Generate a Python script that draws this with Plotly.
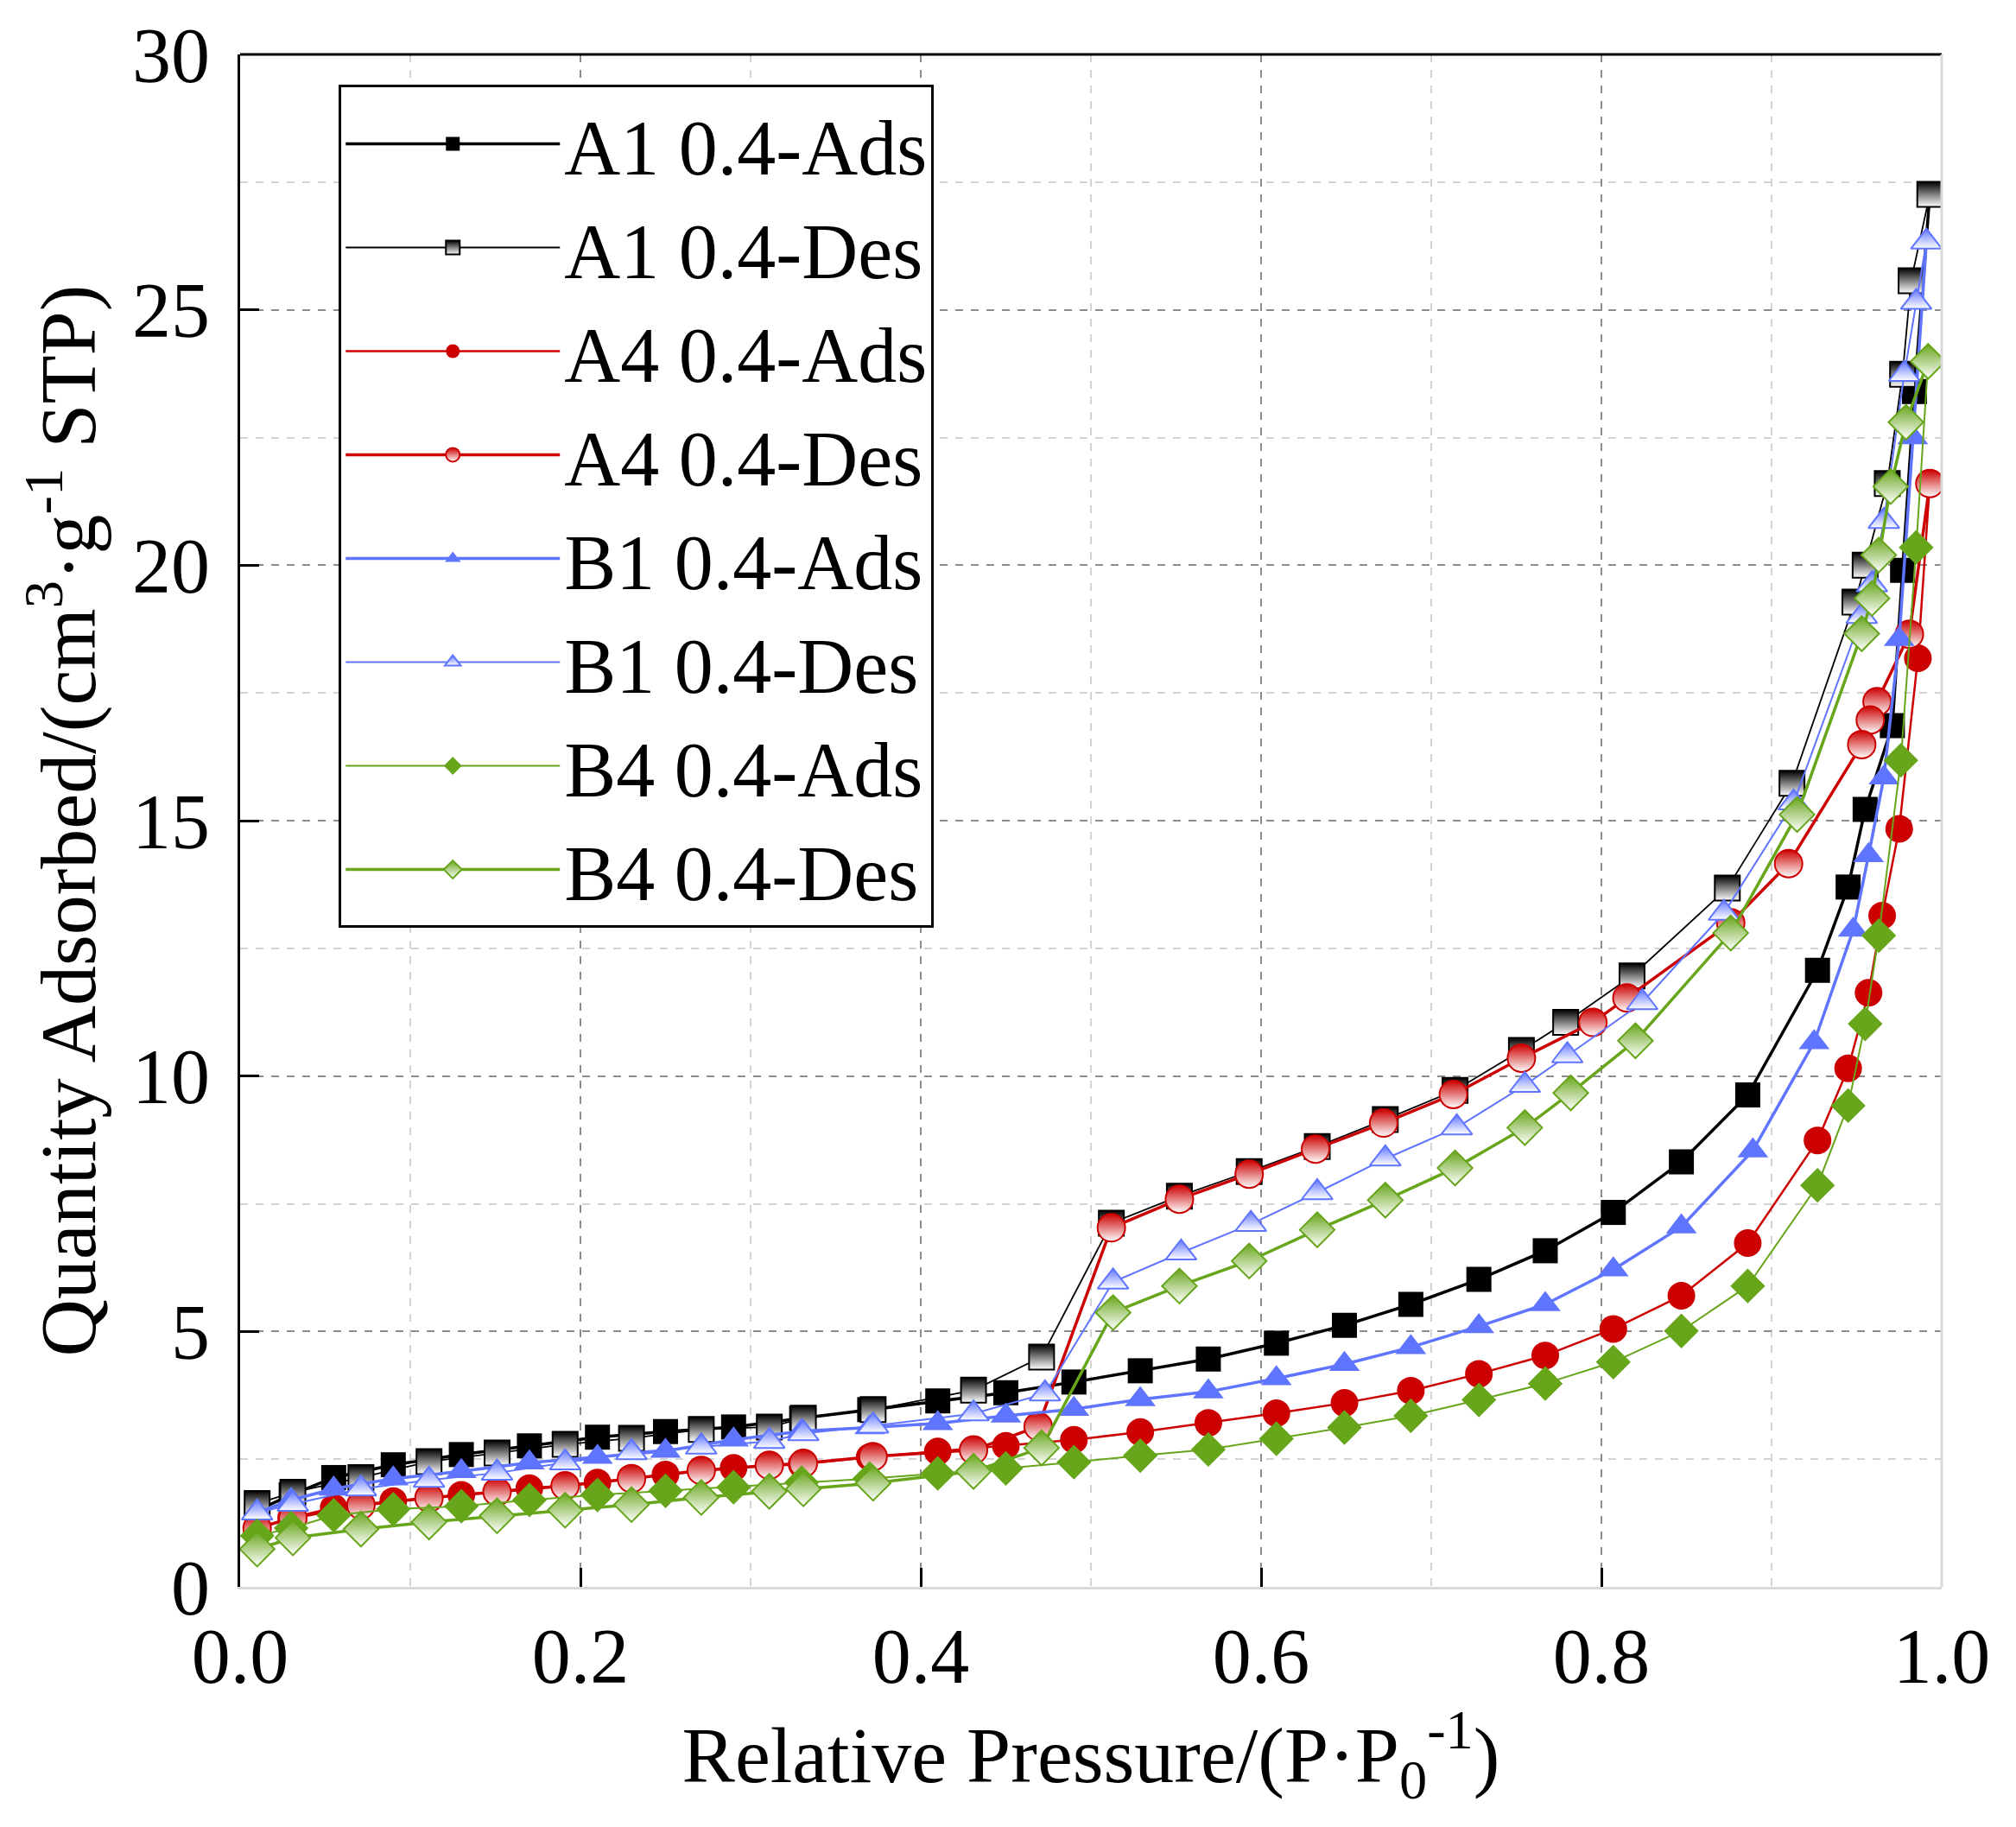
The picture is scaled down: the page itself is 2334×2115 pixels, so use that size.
import plotly.graph_objects as go

# ---------------- data ----------------
a1_ads_x = [0.010, 0.030, 0.055, 0.090, 0.130, 0.170, 0.210, 0.250, 0.290, 0.330, 0.370, 0.410, 0.450, 0.490,
            0.529, 0.569, 0.609, 0.649, 0.688, 0.728, 0.767, 0.807, 0.847, 0.886, 0.927, 0.945, 0.955, 0.971, 0.977, 0.984, 0.993]
a1_ads_y = [1.50, 1.80, 2.14, 2.39, 2.59, 2.76, 2.93, 3.04, 3.13, 3.30, 3.47, 3.64, 3.80, 4.01,
            4.23, 4.46, 4.77, 5.12, 5.53, 6.02, 6.58, 7.33, 8.32, 9.63, 12.07, 13.70, 15.22, 16.86, 19.90, 23.40, 27.26]

a1_des_x = [0.993, 0.982, 0.977, 0.968, 0.955, 0.949, 0.912, 0.874, 0.818, 0.779, 0.753, 0.714, 0.673, 0.633, 0.593,
            0.552, 0.512, 0.471, 0.431, 0.372, 0.331, 0.311, 0.271, 0.230, 0.191, 0.151, 0.111, 0.071, 0.031, 0.010]
a1_des_y = [27.26, 25.57, 23.74, 21.60, 20.00, 19.28, 15.73, 13.68, 11.96, 11.05, 10.50, 9.72, 9.15, 8.62, 8.13,
            7.65, 7.12, 4.50, 3.85, 3.47, 3.30, 3.13, 3.08, 2.91, 2.79, 2.62, 2.45, 2.14, 1.85, 1.63]

a4_ads_x = [0.010, 0.030, 0.055, 0.090, 0.130, 0.170, 0.210, 0.250, 0.290, 0.330, 0.370, 0.410, 0.450, 0.490,
            0.529, 0.569, 0.609, 0.649, 0.688, 0.728, 0.767, 0.807, 0.847, 0.886, 0.927, 0.945, 0.957, 0.965, 0.975, 0.986, 0.993]
a4_ads_y = [1.15, 1.35, 1.55, 1.68, 1.80, 1.93, 2.04, 2.20, 2.33, 2.40, 2.54, 2.65, 2.76, 2.88,
            3.03, 3.21, 3.40, 3.60, 3.84, 4.17, 4.53, 5.05, 5.70, 6.73, 8.74, 10.15, 11.63, 13.14, 14.84, 18.18, 21.60]

a4_des_x = [0.993, 0.981, 0.962, 0.958, 0.953, 0.910, 0.876, 0.815, 0.795, 0.753, 0.713, 0.672, 0.632, 0.593, 0.552,
            0.512, 0.469, 0.431, 0.372, 0.331, 0.311, 0.271, 0.230, 0.191, 0.151, 0.111, 0.071, 0.031, 0.010]
a4_des_y = [21.60, 18.65, 17.33, 16.97, 16.49, 14.16, 13.00, 11.53, 11.05, 10.35, 9.64, 9.08, 8.57, 8.08, 7.59,
            7.03, 3.14, 2.68, 2.55, 2.42, 2.38, 2.28, 2.12, 1.98, 1.86, 1.74, 1.60, 1.35, 1.15]

b1_ads_x = [0.010, 0.030, 0.055, 0.090, 0.130, 0.170, 0.210, 0.250, 0.290, 0.330, 0.370, 0.410, 0.450, 0.490,
            0.529, 0.569, 0.609, 0.649, 0.688, 0.728, 0.767, 0.807, 0.847, 0.889, 0.925, 0.948, 0.957, 0.966, 0.975, 0.983, 0.991]
b1_ads_y = [1.45, 1.70, 1.92, 2.12, 2.26, 2.43, 2.54, 2.66, 2.88, 3.05, 3.12, 3.20, 3.35, 3.48,
            3.67, 3.82, 4.08, 4.36, 4.69, 5.10, 5.53, 6.21, 7.05, 8.54, 10.66, 12.86, 14.32, 15.84, 18.55, 22.50, 26.33]

b1_des_x = [0.991, 0.985, 0.978, 0.966, 0.959, 0.953, 0.913, 0.872, 0.824, 0.780, 0.755, 0.715, 0.673, 0.633, 0.594,
            0.553, 0.513, 0.473, 0.431, 0.372, 0.331, 0.311, 0.271, 0.230, 0.191, 0.151, 0.111, 0.071, 0.031, 0.010]
b1_des_y = [26.33, 25.15, 23.74, 20.86, 19.62, 19.00, 15.35, 13.19, 11.44, 10.40, 9.82, 8.99, 8.38, 7.72, 7.10,
            6.54, 5.97, 3.78, 3.39, 3.15, 3.00, 2.85, 2.74, 2.63, 2.43, 2.23, 2.09, 1.92, 1.62, 1.45]

b4_ads_x = [0.010, 0.030, 0.055, 0.090, 0.130, 0.170, 0.210, 0.250, 0.290, 0.330, 0.370, 0.410, 0.450, 0.490,
            0.529, 0.569, 0.609, 0.649, 0.688, 0.728, 0.767, 0.807, 0.847, 0.886, 0.927, 0.945, 0.955, 0.963, 0.976, 0.985, 0.992]
b4_ads_y = [1.00, 1.15, 1.40, 1.52, 1.58, 1.70, 1.80, 1.88, 1.95, 2.04, 2.12, 2.22, 2.32, 2.44,
            2.57, 2.69, 2.90, 3.12, 3.35, 3.66, 3.98, 4.40, 5.01, 5.89, 7.86, 9.42, 11.02, 12.75, 16.18, 20.35, 23.99]

b4_des_x = [0.992, 0.979, 0.970, 0.963, 0.959, 0.953, 0.915, 0.876, 0.820, 0.782, 0.755, 0.714, 0.673, 0.633, 0.593,
            0.552, 0.513, 0.471, 0.431, 0.372, 0.331, 0.311, 0.271, 0.230, 0.191, 0.151, 0.111, 0.071, 0.031, 0.010]
b4_des_y = [23.99, 22.80, 21.54, 20.20, 19.35, 18.66, 15.12, 12.80, 10.69, 9.67, 8.99, 8.20, 7.57, 6.99, 6.38,
            5.89, 5.37, 2.72, 2.26, 2.03, 1.92, 1.87, 1.75, 1.61, 1.50, 1.39, 1.27, 1.13, 0.96, 0.74]

series_names = ["A1 0.4-Ads", "A1 0.4-Des", "A4 0.4-Ads", "A4 0.4-Des",
                "B1 0.4-Ads", "B1 0.4-Des", "B4 0.4-Ads", "B4 0.4-Des"]

x_tick_vals = [0.0, 0.2, 0.4, 0.6, 0.8, 1.0]
x_tick_text = ["0.0", "0.2", "0.4", "0.6", "0.8", "1.0"]
y_tick_vals = [0, 5, 10, 15, 20, 25, 30]
y_tick_text = ["0", "5", "10", "15", "20", "25", "30"]

# ---------------- styling ----------------
BLACK = "#000000"
RED = "#CC0000"
BLUE = "#5F74FF"
GREEN = "#67A51B"
FONT = "Liberation Serif"

fig = go.Figure()


def add_series(x, y, name, color, symbol, size, lw, half):
    if half:
        marker = dict(symbol=symbol, size=size, color=color,
                      gradient=dict(type="vertical", color="white"),
                      line=dict(color=color, width=2))
    else:
        marker = dict(symbol=symbol, size=size, color=color, line=dict(color=color, width=0))
    fig.add_trace(go.Scatter(x=x, y=y, name=name, mode="lines+markers",
                             line=dict(color=color, width=lw), marker=marker))


add_series(a1_ads_x, a1_ads_y, series_names[0], BLACK, "square", 29, 3.5, False)
add_series(a1_des_x, a1_des_y, series_names[1], BLACK, "square", 29, 1.8, True)
add_series(a4_ads_x, a4_ads_y, series_names[2], RED, "circle", 32, 2.5, False)
add_series(a4_des_x, a4_des_y, series_names[3], RED, "circle", 32, 3.5, True)
add_series(b1_ads_x, b1_ads_y, series_names[4], BLUE, "triangle-up", 31, 3.5, False)
add_series(b1_des_x, b1_des_y, series_names[5], BLUE, "triangle-up", 31, 2.0, True)
add_series(b4_ads_x, b4_ads_y, series_names[6], GREEN, "diamond", 31, 2.0, False)
add_series(b4_des_x, b4_des_y, series_names[7], GREEN, "diamond", 31, 3.5, True)

axis_font = dict(family=FONT, size=90, color="black")

fig.update_xaxes(
    range=[0, 1], tickvals=x_tick_vals, ticktext=x_tick_text,
    tickfont=axis_font, ticks="inside", ticklen=22, tickwidth=3, tickcolor="black",
    showline=True, linecolor="#d9d9d9", linewidth=3, mirror=False,
    showgrid=True, gridcolor="#8c8c8c", gridwidth=2, griddash="dash",
    minor=dict(dtick=0.1, tick0=0, showgrid=True, gridcolor="#d3d3d3", gridwidth=2, griddash="dash", ticks=""),
    zeroline=False, ticklabelstandoff=0,
    title=dict(text="Relative Pressure/(P·P<sub>0</sub><sup>-1</sup>)", font=dict(family=FONT, size=92, color="black"),
               standoff=30),
)
fig.update_yaxes(
    range=[0, 30], tickvals=y_tick_vals, ticktext=y_tick_text,
    tickfont=axis_font, ticks="inside", ticklen=22, tickwidth=3, tickcolor="black",
    showline=True, linecolor="black", linewidth=3, mirror=False,
    showgrid=True, gridcolor="#8c8c8c", gridwidth=2, griddash="dash",
    minor=dict(dtick=2.5, tick0=0, showgrid=True, gridcolor="#d3d3d3", gridwidth=2, griddash="dash", ticks=""),
    zeroline=False, ticklabelstandoff=14,
    title=dict(text="Quantity Adsorbed/(cm<sup>3</sup>·g<sup>-1</sup> STP)", font=dict(family=FONT, size=92, color="black"),
               standoff=12),
)

# frame: black top edge, light right edge
fig.add_shape(type="line", xref="paper", yref="paper", x0=0, x1=1, y0=1, y1=1,
              line=dict(color="black", width=3), layer="above")
fig.add_shape(type="line", xref="paper", yref="paper", x0=1, x1=1, y0=0, y1=1,
              line=dict(color="#d9d9d9", width=3), layer="above")

fig.update_layout(
    width=2334, height=2115,
    margin=dict(l=278, r=86, t=63, b=278),
    paper_bgcolor="white", plot_bgcolor="white",
    font=dict(family=FONT, color="black"),
    legend=dict(x=0.058, y=0.980, xanchor="left", yanchor="top",
                bordercolor="black", borderwidth=3, bgcolor="white",
                font=dict(family=FONT, size=90, color="black"),
                itemwidth=248, tracegroupgap=0),
    showlegend=True,
)

fig.write_html("out.html", config={"displayModeBar": False},
               post_script="document.body.style.margin='0';document.body.style.overflow='hidden';")
